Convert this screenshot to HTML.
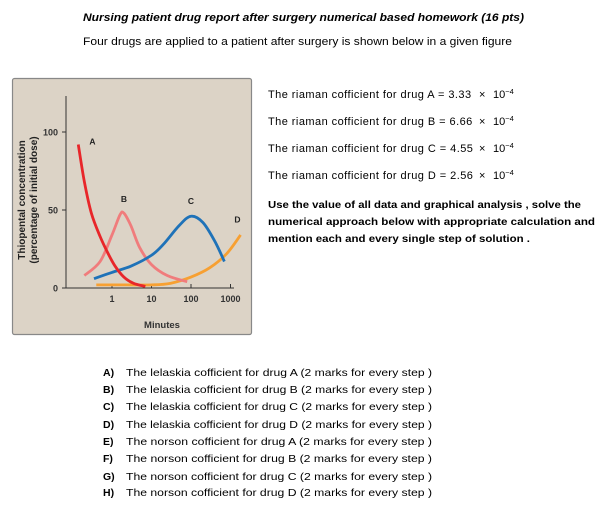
<!DOCTYPE html>
<html><head><meta charset="utf-8"><style>
html,body{margin:0;padding:0;background:#fff;}
svg{display:block;font-family:"Liberation Sans",sans-serif;}
.r{position:absolute;left:268px;font-family:"Liberation Sans","DejaVu Sans",sans-serif;font-size:11px;letter-spacing:0.45px;line-height:12px;white-space:nowrap;color:#000;}
.r .m{position:absolute;left:211px;top:0;letter-spacing:0;}
.r .p{position:absolute;left:225px;top:0;letter-spacing:0;}
.r sup{font-size:7.5px;vertical-align:4px;line-height:0;}
</style></head><body>
<div style="position:relative;width:604px;height:507px;">
<svg id="s" width="604" height="507" viewBox="0 0 604 507">
<text x="83" y="21" font-size="11" font-weight="bold" font-style="italic" textLength="441" lengthAdjust="spacingAndGlyphs">Nursing patient drug report after surgery numerical based homework (16 pts)</text>
<text x="83" y="45" font-size="11" textLength="429" lengthAdjust="spacingAndGlyphs">Four drugs are applied to a patient after surgery is shown below in a given figure</text>

<rect x="12.5" y="78.5" width="239" height="256" rx="2" fill="#dcd3c6" stroke="#888" stroke-width="1.2"/>
<g id="chart"></g>

<g font-size="10.5" font-weight="bold">
<text x="268" y="208" textLength="313" lengthAdjust="spacingAndGlyphs">Use the value of all data and graphical analysis , solve the</text>
<text x="268" y="225" textLength="327" lengthAdjust="spacingAndGlyphs">numerical approach below with appropriate calculation and</text>
<text x="268" y="242" textLength="262" lengthAdjust="spacingAndGlyphs">mention each and every single step of solution .</text>
</g>
<g id="qs" font-size="10.5"></g>
</svg>
<div class="r" style="top:89px">The riaman cofficient for drug A = 3.33<span class="m">×</span><span class="p">10<sup>−4</sup></span></div>
<div class="r" style="top:116px">The riaman cofficient for drug B = 6.66<span class="m">×</span><span class="p">10<sup>−4</sup></span></div>
<div class="r" style="top:143px">The riaman cofficient for drug C = 4.55<span class="m">×</span><span class="p">10<sup>−4</sup></span></div>
<div class="r" style="top:170px">The riaman cofficient for drug D = 2.56<span class="m">×</span><span class="p">10<sup>−4</sup></span></div>
</div>
<script>
const NS="http://www.w3.org/2000/svg";
function mk(tag,attrs,parent,text){const e=document.createElementNS(NS,tag);for(const k in attrs)e.setAttribute(k,attrs[k]);if(text!==undefined)e.textContent=text;parent.appendChild(e);return e;}

// chart data
const xTicks=[1,10,100,1000];
const xTickLabels=["1","10","100","1000"];
const yTicks=[0,50,100];
const yTickLabels=["0","50","100"];
const seriesNames=["A","B","C","D"];
const seriesColors=["#e8262a","#f07c7c","#1f72b8","#f7a032"];
const aMinutes=[0.14,0.2,0.3,0.5,0.8,1.2,2,3.5,7];
const aValues=[92,68,48,33,22,14,7,3,1];
const bMinutes=[0.2,0.5,1,1.6,2,3,5,10,25,80];
const bValues=[8,17,34,47,48,40,26,15,8,4];
const cMinutes=[0.35,1,3,10,20,50,100,200,400,700];
const cValues=[6,10,14,21,28,40,46,42,30,17];
const dMinutes=[0.4,2,10,30,100,300,800,1800];
const dValues=[2,2,2,3,7,13,22,34];
const allX=[aMinutes,bMinutes,cMinutes,dMinutes];
const allY=[aValues,bValues,cValues,dValues];
const labelMinutes=[0.2,2,100,1500];
const labelValues=[92,55,54,42];

function xs(m){return 112+39.5*Math.log10(m);}
function ys(v){return 288-1.56*v;}

const g=document.getElementById('chart');
const ax=mk('path',{d:"M66,96 V288 H234",fill:"none",stroke:"#333","stroke-width":1},g);


yTicks.forEach((v,i)=>{
  const t=mk('line',{x1:62,x2:66,y1:ys(v),y2:ys(v),stroke:"#333"},g);
  
  
  const l=mk('text',{x:58,y:ys(v)+3.5,"font-size":9,"font-weight":"bold","text-anchor":"end",fill:"#333"},g,yTickLabels[i]);
  
  
});
xTicks.forEach((v,i)=>{
  const t=mk('line',{x1:xs(v),x2:xs(v),y1:284,y2:288,stroke:"#333"},g);
  
  
  const l=mk('text',{x:xs(v),y:302,"font-size":9,"font-weight":"bold","text-anchor":"middle",fill:"#333"},g,xTickLabels[i]);
  
  
});
const xt=mk('text',{x:162,y:328,"font-size":9.5,"font-weight":"bold","text-anchor":"middle",fill:"#333"},g,"Minutes");


const yt=mk('text',{transform:"translate(25,200) rotate(-90)","font-size":10,"font-weight":"bold","text-anchor":"middle",fill:"#222"},g);


mk('tspan',{x:0,y:0},yt,"Thiopental concentration");
mk('tspan',{x:0,y:12},yt,"(percentage of initial dose)");

function smooth(p){let d="M"+p[0][0]+","+p[0][1];for(let i=0;i<p.length-1;i++){const p0=p[i-1]||p[i],p1=p[i],p2=p[i+1],p3=p[i+2]||p2;
 d+=" C"+(p1[0]+(p2[0]-p0[0])/6)+","+(p1[1]+(p2[1]-p0[1])/6)+" "+(p2[0]-(p3[0]-p1[0])/6)+","+(p2[1]-(p3[1]-p1[1])/6)+" "+p2[0]+","+p2[1];}return d;}
[3,1,2,0].forEach(i=>{
  const pts=allX[i].map((m,k)=>[xs(m),ys(allY[i][k])]);
  const p=mk('path',{d:smooth(pts),fill:"none",stroke:seriesColors[i],"stroke-width":2.8,"stroke-linecap":"butt"},g);
  
  
});
seriesNames.forEach((n,i)=>{
  const t=mk('text',{x:xs(labelMinutes[i])+(i==0?8:0),y:ys(labelValues[i]),"font-size":8.5,"font-weight":"bold","text-anchor":"middle",fill:"#222"},g,n);
  
  
});

// questions
const qLetters=["A)","B)","C)","D)","E)","F)","G)","H)"];
const qTexts=["The lelaskia cofficient for drug A  (2 marks for every step )","The lelaskia cofficient for drug B  (2 marks for every step )","The lelaskia cofficient for drug C  (2 marks for every step )","The lelaskia cofficient for drug D (2 marks for every step )","The norson  cofficient for drug A (2 marks for every step )","The norson  cofficient for drug B (2 marks for every step )","The norson  cofficient for drug C (2 marks for every step )","The norson  cofficient for drug D (2 marks for every step )"];
const qY=[376,393,410,428,445,462,480,496];
const qs=document.getElementById('qs');
qLetters.forEach((l,i)=>{
  const a=mk('text',{x:103,y:qY[i],"font-weight":"bold"},qs,l);
  
  
  const b=mk('text',{x:126,y:qY[i],textLength:306,lengthAdjust:"spacingAndGlyphs","xml:space":"preserve"},qs,qTexts[i]);
  
  
});
</script>
</body></html>
